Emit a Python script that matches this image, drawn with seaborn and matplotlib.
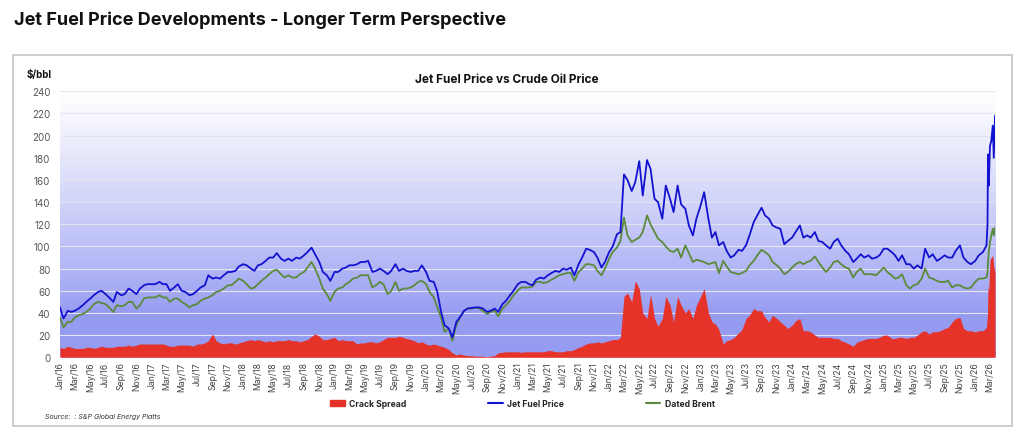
import numpy as np
import pandas as pd
import matplotlib
matplotlib.use("Agg")
import matplotlib.pyplot as plt
import matplotlib.dates as mdates
from matplotlib.patches import Patch, Rectangle
from matplotlib.lines import Line2D
import seaborn as sns

# semi-monthly readings (1st and 15th), Jan 2016 - Feb 15 2026, one row per year
jet_fuel = [
    45, 35, 42, 41, 42, 44, 47, 50, 53, 56, 59, 60, 57, 54, 50, 59, 56, 57, 62, 60, 57, 62, 65, 66,
    66, 66, 68, 66, 66, 60, 63, 66, 60, 59, 56, 57, 60, 63, 65, 74, 71, 72, 71, 74, 77, 77, 78, 82,
    84, 83, 80, 78, 83, 84, 87, 90, 90, 94, 89, 87, 89, 87, 90, 89, 92, 95, 99, 93, 86, 77, 74, 69,
    77, 77, 80, 81, 83, 83, 84, 86, 86, 87, 77, 78, 80, 78, 75, 78, 84, 78, 80, 78, 77, 78, 78, 83,
    77, 69, 68, 59, 41, 29, 26, 18, 32, 36, 42, 44, 44.5, 45, 45, 44, 41, 42, 44, 41, 48, 51, 56, 60,
    66, 68, 68, 66, 65, 70, 72, 71, 74, 76, 78, 77, 80, 79, 81, 74, 84, 90, 98, 97, 95, 90, 81, 86,
    95, 100, 111, 113, 165, 160, 150, 158, 177, 146, 178, 170, 143, 140, 125, 155, 143, 131, 155, 138, 134, 119, 110, 125,
    137, 149, 125, 108, 113, 101, 104, 96, 90, 92, 97, 96, 101, 110, 122, 128, 135, 128, 125, 119, 117, 116, 102, 105,
    108, 113, 119, 108, 110, 108, 113, 105, 104, 101, 98, 104, 107, 101, 96, 93, 86, 89, 93, 90, 92, 89, 90, 92,
    98, 98, 95, 92, 87, 92, 84, 84, 80, 83, 80, 98, 90, 93, 87, 89, 92, 90, 90, 96, 101, 90, 86, 84,
    87, 92, 95, 101,
]
dated_brent = [
    36, 27, 32, 32, 36, 38, 39, 41, 44, 48, 50, 49, 48, 45, 41, 47, 46, 47, 50, 50, 44, 47, 53, 54,
    54, 54, 56, 54, 54, 50, 53, 53, 50, 48, 45, 47, 48, 51, 53, 54, 56, 59, 60, 62, 65, 65, 68, 71,
    69, 66, 62, 63, 66, 69, 72, 75, 78, 79, 75, 72, 74, 72, 72, 75, 77, 81, 86, 80, 71, 62, 57, 51,
    59, 62, 63, 66, 68, 71, 72, 74, 74, 74, 63, 65, 68, 66, 57, 60, 68, 60, 62, 62, 63, 65, 68, 69,
    66, 59, 54, 45, 36, 23, 26, 15, 29, 36, 42, 44, 44, 45, 44, 42, 39, 41, 42, 37, 44, 47, 51, 56,
    60, 63, 63, 63, 64, 68, 68, 67, 68, 70, 72, 74, 75, 76, 76, 69, 77, 80, 84, 84, 83, 78, 74, 80,
    89, 95, 99, 105, 126, 110, 104, 106, 108, 113, 128, 120, 113, 107, 104, 100, 96, 95, 98, 90, 101, 94, 86, 88,
    87, 86, 84, 85, 86, 76, 87, 82, 77, 76, 75, 76, 78, 83, 87, 92, 97, 95, 92, 86, 83, 80, 75, 77,
    81, 84, 86, 84, 86, 87, 91, 86, 81, 77, 81, 86, 87, 84, 81, 80, 72, 77, 80, 75, 75, 75, 74, 77,
    81, 77, 74, 71, 72, 75, 65, 62, 65, 66, 71, 80, 72, 71, 69, 68, 68, 69, 63, 65, 65, 63, 62, 63,
    68, 71, 71, 72,
]
crack_spread = [
    9, 8, 10, 9, 8, 8, 8, 9, 9, 8, 9, 10, 9, 9, 9, 10, 10, 10, 11, 10, 11, 12, 12, 12,
    12, 12, 12, 12, 11, 10, 10, 11, 11, 11, 11, 10, 12, 12, 13, 15, 21, 15, 13, 12, 13, 13, 12, 13,
    14, 15, 16, 15, 16, 15, 14, 15, 14, 15, 15, 15, 16, 15, 15, 14, 15, 16, 19, 21, 19, 16, 16, 17,
    18, 15, 16, 15, 15, 15, 12, 13, 13, 14, 14, 13, 14, 16, 18, 18, 18, 19, 18, 17, 16, 15, 13, 14,
    12, 11, 12, 11, 10, 9, 7, 4, 2, 3, 2, 1.5, 1.5, 1, 1, 1, 0.5, 1, 1.5, 4, 4.5, 5, 5, 5,
    5, 4.5, 5, 5, 5, 5, 5, 5, 6, 6, 5, 5, 5, 6, 6, 7, 9, 10, 12, 13, 13, 14, 13, 14,
    15, 16, 16, 18, 55, 58, 50, 69, 62, 40, 35, 57, 35, 28, 35, 55, 47, 32, 55, 47, 40, 44, 35, 47,
    55, 62, 40, 32, 30, 25, 12, 15, 16, 18, 22, 25, 35, 38, 44, 42, 42, 36, 32, 38, 35, 32, 29, 26,
    29, 33, 35, 24, 24, 23, 20, 18, 18, 18, 18, 17, 17, 15, 13.5, 12, 10, 13.5, 15, 16, 17, 17, 17, 18,
    20, 20, 17, 17, 18, 18, 17, 18, 18, 20, 23, 24, 21, 23, 23, 24, 26, 27, 32, 35, 36, 26, 24, 24,
    23, 24, 24, 27,
]

# the 2026 spike, read at finer spacing
tail_dates = ["2026-02-19", "2026-02-21", "2026-02-24", "2026-03-01",
              "2026-03-06", "2026-03-12", "2026-03-16", "2026-03-21"]
tail_jet = [120, 183, 155, 191, 195, 209, 180, 218]
tail_brent = [76, 85, 95, 104, 110, 116, 110, 117]
tail_crack = [40, 65, 60, 88, 90, 92, 82, 77]

y_ticks = list(range(0, 241, 20))

RED = "#e5332a"
BLUE = "#1212d0"
GREEN = "#5b8a3a"

dates = list(pd.date_range("2016-01-01", "2026-02-15", freq="SMS")) + list(pd.to_datetime(tail_dates))
df = pd.DataFrame({
    "date": dates,
    "jet": jet_fuel + tail_jet,
    "brent": dated_brent + tail_brent,
    "crack": crack_spread + tail_crack,
})

sns.set_theme(style="white")
plt.rcParams["font.family"] = ["Inter", "DejaVu Sans"]

fig = plt.figure(figsize=(10.24, 4.35), dpi=100)
ax = fig.add_axes([0.0586, 0.1763, 0.9131, 0.6115])

ax.fill_between(df["date"], 0, df["crack"], color=RED, lw=0, zorder=1)
sns.lineplot(data=df, x="date", y="brent", color=GREEN, lw=1.3, ax=ax, zorder=2, legend=False)
sns.lineplot(data=df, x="date", y="jet", color=BLUE, lw=1.3, ax=ax, zorder=3, legend=False)

# background gradient, periwinkle at the bottom fading to white at the top
x0 = mdates.date2num(df["date"].iloc[0])
x1 = mdates.date2num(df["date"].iloc[-1])
ys = np.linspace(0, 240, 400)
t = np.clip((ys - 40) / 195, 0, 1) ** 0.85
base = np.array([0.59, 0.61, 0.95])
grad = base + (1 - base) * t[:, None]
ax.imshow(grad[:, None, :], extent=[x0, x1, 0, 240], origin="lower", aspect="auto", zorder=0)

ax.set_xlim(x0, x1)
ax.set_ylim(0, 240)
ax.set_yticks(y_ticks)
ax.set_axisbelow(True)
ax.yaxis.grid(True, color="#e3e4ee", lw=0.8)
ax.xaxis.grid(False)
for s in ax.spines.values():
    s.set_visible(False)

ax.xaxis.set_major_locator(mdates.MonthLocator(bymonth=[1, 3, 5, 7, 9, 11]))
ax.xaxis.set_major_formatter(mdates.DateFormatter("%b/%y"))
ax.tick_params(axis="x", rotation=90, labelsize=6.3, length=0, pad=3, colors="#444444")
ax.tick_params(axis="y", labelsize=7, length=0, pad=7, colors="#555555")
ax.set_xlabel("")
ax.set_ylabel("")

# frame around the chart panel
fig.patches.append(Rectangle((13 / 1024, 8 / 435), 999 / 1024, 371 / 435,
                             transform=fig.transFigure, fill=False, ec="#c9c9c9", lw=1.3))

fig.text(14 / 1024, 1 - 20 / 435, "Jet Fuel Price Developments - Longer Term Perspective",
         fontsize=13, weight="bold", color="#111111", va="center")
fig.text(507 / 1024, 1 - 80 / 435, "Jet Fuel Price vs Crude Oil Price",
         fontsize=8.5, weight="bold", color="#111111", ha="center", va="center")
fig.text(27 / 1024, 1 - 75 / 435, "$/bbl", fontsize=7, weight="bold", color="#111111", va="center")
fig.text(45 / 1024, 1 - 417 / 435, "Source:  : S&P Global Energy Platts",
         fontsize=5, style="italic", color="#333333", va="center")

handles = [Patch(color=RED), Line2D([], [], color=BLUE, lw=1.5), Line2D([], [], color=GREEN, lw=1.5)]
fig.legend(handles, ["Crack Spread", "Jet Fuel Price", "Dated Brent"], loc="center",
           bbox_to_anchor=(0.51, 0.069), ncol=3, frameon=False,
           prop=dict(weight="bold", size=6.2), columnspacing=9.5, handlelength=1.7, handletextpad=0.5)

fig.savefig("out.png", dpi=100)
